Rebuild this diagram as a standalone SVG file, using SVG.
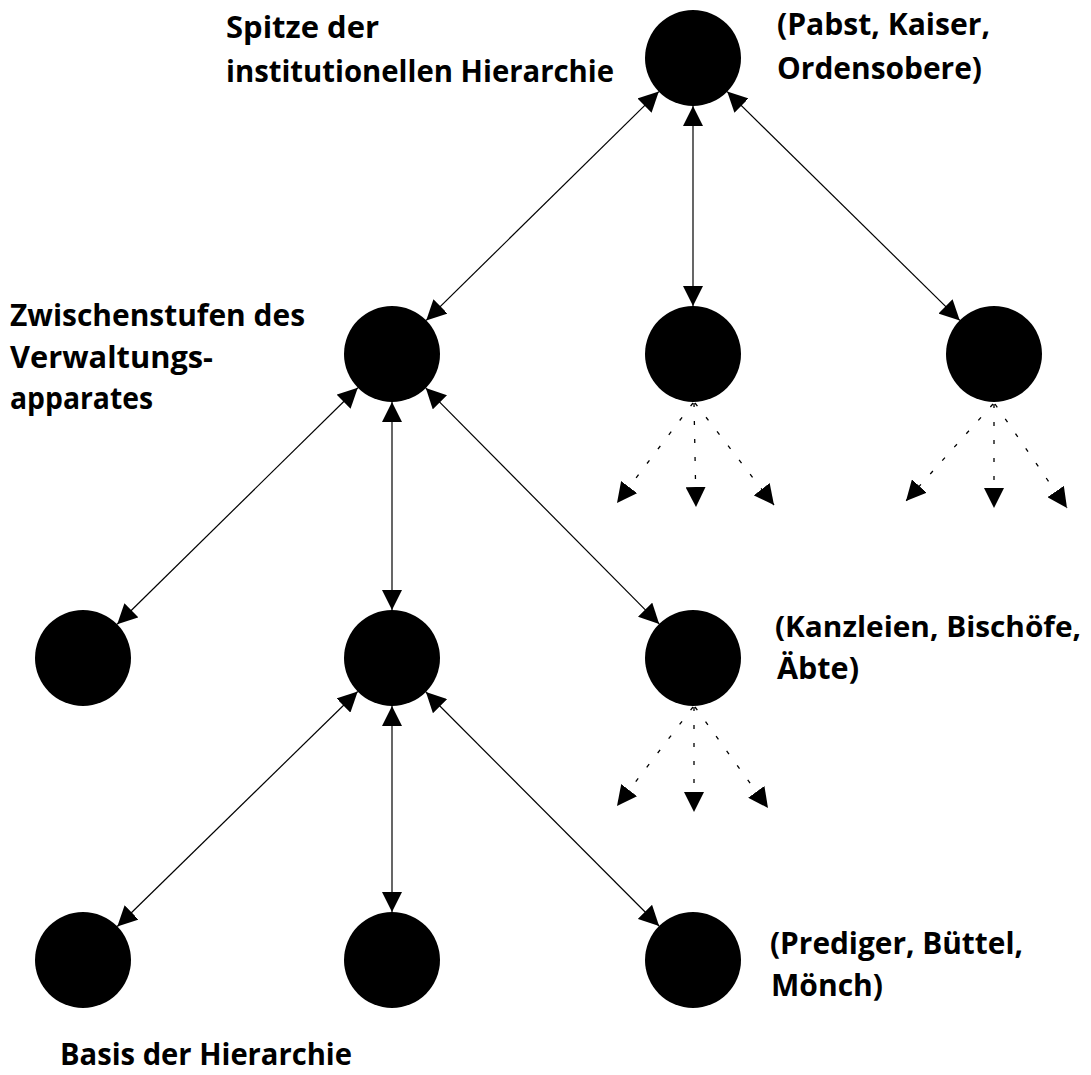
<svg xmlns="http://www.w3.org/2000/svg" width="1091" height="1075" viewBox="0 0 1091 1075">
<style>
.node{fill:#000}
.lbl{font-family:"Open Sans","Liberation Sans",sans-serif;font-weight:bold;font-size:31px;fill:#000}
.solid{stroke:#000;stroke-width:1.2;fill:none;marker-start:url(#ah);marker-end:url(#ah)}
.dot{stroke:#000;stroke-width:1.3;fill:none;stroke-dasharray:4 14;marker-end:url(#ah)}
</style>
<defs>
<marker id="ah" markerUnits="userSpaceOnUse" markerWidth="20" markerHeight="20" refX="20" refY="10" orient="auto-start-reverse" viewBox="0 0 20 20">
<path d="M0,0 L20,10 L0,20 z" fill="#000"/>
</marker>
</defs>
<rect width="1091" height="1075" fill="#fff"/>
<g id="connectors">
<line class="solid" x1="658.8" y1="91.6" x2="426.2" y2="320.4"/>
<line class="solid" x1="693" y1="106" x2="693" y2="306"/>
<line class="solid" x1="727.2" y1="91.6" x2="959.8" y2="320.4"/>
<line class="solid" x1="357.8" y1="387.7" x2="117.2" y2="624.3"/>
<line class="solid" x1="392" y1="402" x2="392" y2="610"/>
<line class="solid" x1="425.8" y1="388.1" x2="659.2" y2="623.9"/>
<line class="solid" x1="357.7" y1="691.5" x2="117.3" y2="926.5"/>
<line class="solid" x1="392" y1="706" x2="392" y2="912"/>
<line class="solid" x1="425.9" y1="692" x2="659.1" y2="926"/>
<line class="dot" x1="693" y1="403" x2="617" y2="503"/>
<line class="dot" x1="694" y1="403" x2="696" y2="507"/>
<line class="dot" x1="695" y1="403" x2="774" y2="505"/>
<line class="dot" x1="993" y1="404" x2="906" y2="501"/>
<line class="dot" x1="994" y1="404" x2="994" y2="508"/>
<line class="dot" x1="995" y1="404" x2="1067" y2="508"/>
<line class="dot" x1="693" y1="707" x2="617" y2="806"/>
<line class="dot" x1="694" y1="707" x2="694" y2="812"/>
<line class="dot" x1="695" y1="707" x2="768" y2="808"/>
</g>
<g id="n-top"><circle class="node" cx="693" cy="58" r="48"/></g>
<g id="n-mid-left"><circle class="node" cx="392" cy="354" r="48"/></g>
<g id="n-mid-center"><circle class="node" cx="693" cy="354" r="48"/></g>
<g id="n-mid-right"><circle class="node" cx="994" cy="354" r="48"/></g>
<g id="n-r3-left"><circle class="node" cx="83" cy="658" r="48"/></g>
<g id="n-r3-center"><circle class="node" cx="392" cy="658" r="48"/></g>
<g id="n-r3-right"><circle class="node" cx="693" cy="658" r="48"/></g>
<g id="n-r4-left"><circle class="node" cx="83" cy="960" r="48"/></g>
<g id="n-r4-center"><circle class="node" cx="392" cy="960" r="48"/></g>
<g id="n-r4-right"><circle class="node" cx="693" cy="960" r="48"/></g>
<g id="labels">
<text class="lbl" x="226" y="38" textLength="153" lengthAdjust="spacingAndGlyphs">Spitze der</text>
<text class="lbl" x="226" y="82" textLength="388" lengthAdjust="spacingAndGlyphs">institutionellen Hierarchie</text>
<text class="lbl" x="777" y="35" textLength="213" lengthAdjust="spacingAndGlyphs">(Pabst, Kaiser,</text>
<text class="lbl" x="777" y="79" textLength="205" lengthAdjust="spacingAndGlyphs">Ordensobere)</text>
<text class="lbl" x="10" y="326" textLength="295" lengthAdjust="spacingAndGlyphs">Zwischenstufen des</text>
<text class="lbl" x="10" y="368" textLength="203" lengthAdjust="spacingAndGlyphs">Verwaltungs-</text>
<text class="lbl" x="10" y="409" textLength="143" lengthAdjust="spacingAndGlyphs">apparates</text>
<text class="lbl" x="775" y="637" textLength="306" lengthAdjust="spacingAndGlyphs" style="font-size:29px">(Kanzleien, Bischöfe,</text>
<text class="lbl" x="777" y="679" textLength="82" lengthAdjust="spacingAndGlyphs">Äbte)</text>
<text class="lbl" x="770" y="954" textLength="253" lengthAdjust="spacingAndGlyphs">(Prediger, Büttel,</text>
<text class="lbl" x="771" y="996" textLength="112" lengthAdjust="spacingAndGlyphs">Mönch)</text>
<text class="lbl" x="60" y="1065" textLength="292" lengthAdjust="spacingAndGlyphs">Basis der Hierarchie</text>
</g>
</svg>
